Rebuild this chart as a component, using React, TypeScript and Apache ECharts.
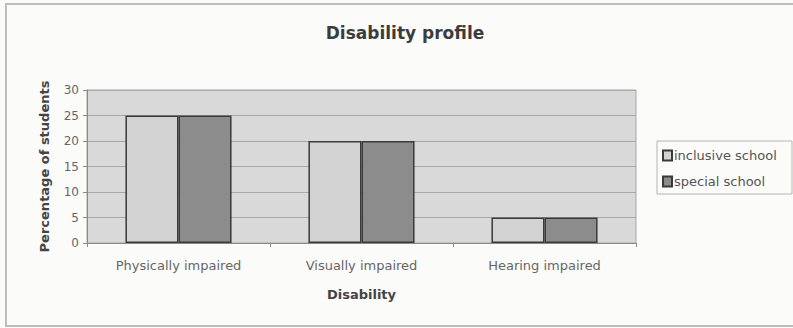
import React, { useEffect, useRef } from "react";
import * as echarts from "echarts";

const categories = ["Physically impaired", "Visually impaired", "Hearing impaired"];
const inclusiveSchool = [25, 20, 5];
const specialSchool = [25, 20, 5];
const seriesNames = ["inclusive school", "special school"];

export default function App() {
  const ref = useRef<HTMLDivElement>(null);
  useEffect(() => {
    document.body.style.margin = "0";
    const chart = echarts.init(ref.current!, null, { renderer: "svg" });
    const font = "'DejaVu Sans', Verdana, sans-serif";
    chart.setOption({
      animation: false,
      backgroundColor: "#fbfbfa",
      title: {
        text: "Disability profile",
        left: 400,
        top: 19,
        textAlign: "center",
        textStyle: { fontFamily: font, fontSize: 17, fontWeight: "bold", color: "#3c3c3c" },
      },
      graphic: [
        {
          type: "rect",
          shape: { x: 6, y: 4, width: 800, height: 322 },
          style: { fill: "none", stroke: "#bdbdbd", lineWidth: 2 },
          silent: true,
        },
        {
          type: "rect",
          shape: { x: 657, y: 141, width: 135, height: 53 },
          style: { fill: "#fbfbfa", stroke: "#b5b5b5", lineWidth: 1 },
          silent: true,
          z: -1,
        },
      ],
      legend: {
        orient: "vertical",
        left: 662,
        top: 149,
        itemWidth: 9,
        itemHeight: 10,
        itemGap: 13,
        padding: 0,
        icon: "rect",
        data: seriesNames,
        textStyle: { fontFamily: font, fontSize: 13, color: "#555", padding: [0, 0, 0, -3] },
      },
      grid: {
        left: 87,
        right: 157,
        top: 90,
        bottom: 85,
        show: true,
        backgroundColor: "#d9d9d9",
        borderColor: "#a8a8a8",
        borderWidth: 1,
      },
      xAxis: {
        type: "category",
        data: categories,
        name: "Disability",
        nameLocation: "middle",
        nameGap: 45,
        nameTextStyle: { fontFamily: font, fontSize: 13, fontWeight: "bold", color: "#444" },
        axisLine: { lineStyle: { color: "#8a8a8a", width: 1 } },
        axisTick: { show: true, length: 4, lineStyle: { color: "#8a8a8a" } },
        axisLabel: { fontFamily: font, fontSize: 13, color: "#666", margin: 16 },
      },
      yAxis: {
        type: "value",
        min: 0,
        max: 30,
        interval: 5,
        name: "Percentage of students",
        nameLocation: "middle",
        nameGap: 36,
        nameTextStyle: { fontFamily: font, fontSize: 13, fontWeight: "bold", color: "#444" },
        axisLine: { show: true, lineStyle: { color: "#8a8a8a", width: 1 } },
        axisTick: { show: true, length: 4, lineStyle: { color: "#8a8a8a" } },
        axisLabel: { fontFamily: font, fontSize: 12, color: "#666", margin: 8 },
        splitLine: { show: true, lineStyle: { color: "#a8a8a8", width: 1 } },
      },
      series: [
        {
          name: seriesNames[0],
          type: "bar",
          data: inclusiveSchool,
          barGap: "0%",
          barCategoryGap: "42%",
          itemStyle: { color: "#d2d2d2", borderColor: "#3a3a3a", borderWidth: 1.5 },
        },
        {
          name: seriesNames[1],
          type: "bar",
          data: specialSchool,
          barGap: "0%",
          barCategoryGap: "42%",
          itemStyle: { color: "#8c8c8c", borderColor: "#3a3a3a", borderWidth: 1.5 },
        },
      ],
    });
    return () => chart.dispose();
  }, []);
  return <div ref={ref} style={{ width: 793, height: 328 }} />;
}
